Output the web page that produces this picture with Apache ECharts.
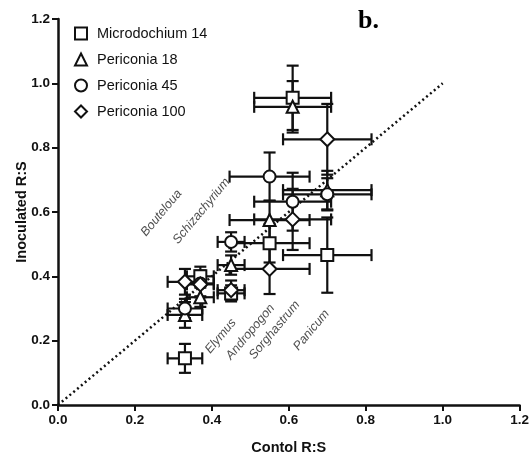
<!DOCTYPE html>
<html>
<head>
<meta charset="utf-8">
<script src="https://cdn.jsdelivr.net/npm/echarts@6/dist/echarts.min.js"></script>
<style>
html,body{margin:0;padding:0;background:#fff;}
#chart{width:532px;height:461px;}
</style>
</head>
<body>
<div id="chart"></div>
<script>
// Species (control R:S on x)
const species = ['Bouteloua','Schizachyrium','Elymus','Andropogon','Sorghastrum','Panicum'];
const controlX = [0.33, 0.37, 0.45, 0.55, 0.61, 0.70];
const controlXErr = [0.045, 0.035, 0.035, 0.104, 0.10, 0.115];

// Inoculated R:S (y) and its error per fungus, in species order
const seriesNames = ['Microdochium 14','Periconia 18','Periconia 45','Periconia 100'];
const micro14Y    = [0.145, 0.40, 0.347, 0.503, 0.955, 0.466];
const micro14YErr = [0.045, 0.03, 0.025, 0.06, 0.10, 0.117];
const peri18Y     = [0.28, 0.335, 0.435, 0.575, 0.927, 0.668];
const peri18YErr  = [0.04, 0.03, 0.03, 0.06, 0.08, 0.06];
const peri45Y     = [0.30, 0.378, 0.507, 0.71, 0.632, 0.655];
const peri45YErr  = [0.03, 0.04, 0.03, 0.075, 0.09, 0.05];
const peri100Y    = [0.383, 0.375, 0.357, 0.423, 0.577, 0.826];
const peri100YErr = [0.04, 0.04, 0.03, 0.078, 0.095, 0.11];

// Species label anchor positions (data units)
const labelX = [0.269, 0.373, 0.423, 0.500, 0.563, 0.659];
const labelY = [0.597, 0.603, 0.214, 0.227, 0.233, 0.233];

// Tick labels / identity line
const tickValues = [0, 0.2, 0.4, 0.6, 0.8, 1.0, 1.2];
const identityLine = [[0, 0], [1.0, 1.0]];

const ys = [micro14Y, peri18Y, peri45Y, peri100Y];
const yerrs = [micro14YErr, peri18YErr, peri45YErr, peri100YErr];
const symbols = ['rect', 'triangle', 'circle', 'diamond'];
const symSizes = [12, 12, 12, 14];
const INK = '#111';

function errRender(params, api) {
  const x = api.value(0), y = api.value(1), ex = api.value(2), ey = api.value(3);
  const l = api.coord([x - ex, y]), r = api.coord([x + ex, y]);
  const t = api.coord([x, y + ey]), b = api.coord([x, y - ey]);
  const h = 6;
  const st = {stroke: INK, lineWidth: 2.2, fill: null};
  const seg = (x1, y1, x2, y2) => ({type: 'line', shape: {x1, y1, x2, y2}, style: st});
  return {type: 'group', children: [
    seg(l[0], l[1], r[0], r[1]),
    seg(l[0], l[1] - h, l[0], l[1] + h),
    seg(r[0], r[1] - h, r[0], r[1] + h),
    seg(t[0], t[1], b[0], b[1]),
    seg(t[0] - h, t[1], t[0] + h, t[1]),
    seg(b[0] - h, b[1], b[0] + h, b[1])
  ]};
}

const series = [];
series.push({
  type: 'line', data: identityLine, showSymbol: false, silent: true,
  lineStyle: {type: [2, 3], width: 2.5, color: INK}, z: 1
});
seriesNames.forEach((name, i) => {
  series.push({
    type: 'custom', name: name + ' err', renderItem: errRender, z: 2, silent: true,
    data: controlX.map((x, j) => [x, ys[i][j], controlXErr[j], yerrs[i][j]])
  });
});
seriesNames.forEach((name, i) => {
  series.push({
    type: 'scatter', name: name, symbol: symbols[i], symbolSize: symSizes[i], z: 3,
    itemStyle: {color: '#fff', borderColor: INK, borderWidth: 2, opacity: 1},
    data: controlX.map((x, j) => [x, ys[i][j]])
  });
});
series.push({
  type: 'scatter', symbolSize: 0, silent: true, z: 4,
  data: species.map((s, j) => ({value: [labelX[j], labelY[j]], name: s})),
  label: {
    show: true, position: 'inside', rotate: 50, formatter: '{b}',
    fontStyle: 'italic', fontSize: 12.5, color: '#222',
    fontFamily: 'Liberation Sans, Arial, sans-serif'
  }
});

const axisCommon = {
  type: 'value', min: 0, max: 1.2, interval: 0.2,
  axisLine: {show: true, lineStyle: {color: INK, width: 2.5}},
  axisTick: {show: true, inside: false, length: 6, lineStyle: {color: INK, width: 2}},
  splitLine: {show: false},
  axisLabel: {
    color: INK, fontSize: 13.5, fontWeight: 'bold',
    fontFamily: 'Liberation Sans, Arial, sans-serif',
    formatter: v => (tickValues.find(t => Math.abs(t - v) < 1e-9) ?? v).toFixed(1)
  },
  nameLocation: 'middle',
  nameMoveOverlap: false,
  nameTextStyle: {color: INK, fontSize: 14.5, fontWeight: 'bold', fontFamily: 'Liberation Sans, Arial, sans-serif'}
};

const chart = echarts.init(document.getElementById('chart'), null, {renderer: 'canvas'});
chart.setOption({
  animation: false,
  backgroundColor: '#fff',
  title: {
    text: 'b.', left: 353, top: 3,
    textStyle: {fontFamily: 'Liberation Serif, Times New Roman, serif', fontWeight: 'bold', fontSize: 26, color: '#000'}
  },
  legend: {
    orient: 'vertical', left: 69, top: 21, itemWidth: 12, itemHeight: 12, itemGap: 11,
    data: seriesNames,
    textStyle: {fontSize: 14.5, color: INK, fontFamily: 'Liberation Sans, Arial, sans-serif', padding: [0, 0, 0, 5]}
  },
  grid: {left: 58, right: 12, top: 19, bottom: 56, containLabel: false},
  xAxis: Object.assign({}, axisCommon, {name: 'Contol R:S', nameGap: 35}),
  yAxis: Object.assign({}, axisCommon, {name: 'Inoculated R:S', nameGap: 29})
  ,series: series
});
</script>
</body>
</html>
